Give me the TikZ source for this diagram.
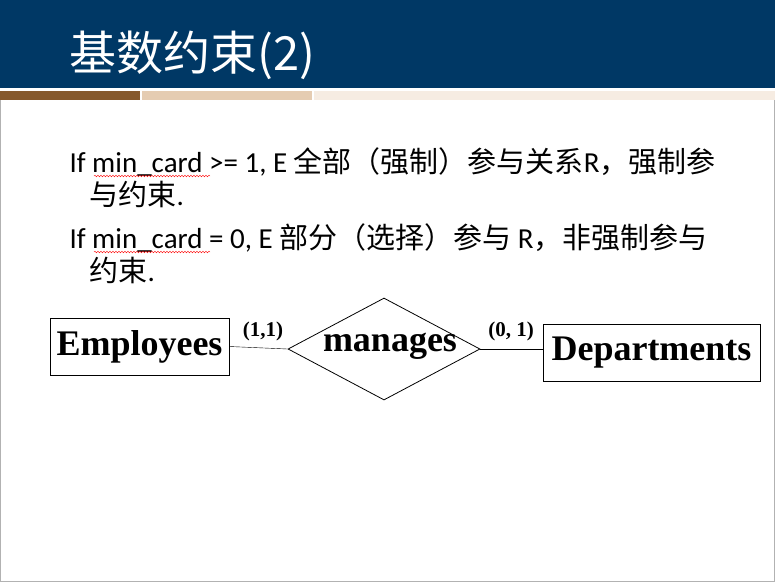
\documentclass[tikz,border=0pt]{standalone}
\usepackage{fontspec}
\setmainfont{Carlito}
\newfontfamily\cjk{Noto Sans CJK SC}
\newfontfamily\tnr{Liberation Serif}
\usetikzlibrary{shapes.geometric,decorations.pathmorphing}
\definecolor{hdr}{HTML}{003865}
\begin{document}
\begin{tikzpicture}[x=1pt,y=-1pt,
  ent/.style={draw,thick,inner sep=0pt,minimum height=57pt,font=\tnr\bfseries\fontsize{36}{36}\selectfont},
  lbl/.style={font=\tnr\bfseries\fontsize{21}{21}\selectfont},
  body/.style={anchor=west,font=\fontsize{29}{34}\selectfont,align=left},
  wavy/.style={red,decorate,decoration={snake,amplitude=0.8pt,segment length=3pt}}]
\useasboundingbox (0,0) rectangle (775,582);
\draw[gray!60] (0.5,0.5) rectangle (774.5,581.5);
\fill[hdr] (0,0) rectangle (775,88);
\fill[white] (0,88) rectangle (775,91);
\fill[brown!70!black] (0,91) rectangle (140,100);
\fill[brown!40!white] (142,91) rectangle (312,100);
\fill[brown!15!white] (314,91) rectangle (775,100);
\node[anchor=west,text=white,font=\cjk\fontsize{47}{47}\selectfont] (title) at (66,55) {基数约束(2)};
\node[body] (l1) at (66,162) {If min\_card >= 1, E {\cjk 全部（强制）参与关系}R{\cjk ，强制参}};
\node[body] (l1b) at (86,194) {{\cjk 与约束}.};
\node[body] (l2) at (66,238) {If min\_card = 0, E {\cjk 部分（选择）参与} R{\cjk ，非强制参与}};
\node[body] (l2b) at (86,270) {{\cjk 约束}.};
\draw[wavy] (94,176) -- (210,176);
\draw[wavy] (94,252) -- (210,252);
\node[ent,minimum width=179pt] (emp) at (139.5,346.5) {Employees};
\node[diamond,draw,thick,minimum width=192pt,minimum height=102pt,inner sep=0pt,aspect=1.9] (rel) at (384,349) {};
\node[font=\tnr\bfseries\fontsize{36}{36}\selectfont] (relt) at (390,346) {manages};
\node[ent,minimum width=217pt] (dep) at (651.5,353) {Departments};
\draw (emp.east) -- (rel.west);
\draw (rel.east) -- (rel.east -| dep.west);
\node[lbl] (c1) at (263,331) {(1,1)};
\node[lbl] (c2) at (511,331) {(0, 1)};
\end{tikzpicture}
\end{document}
